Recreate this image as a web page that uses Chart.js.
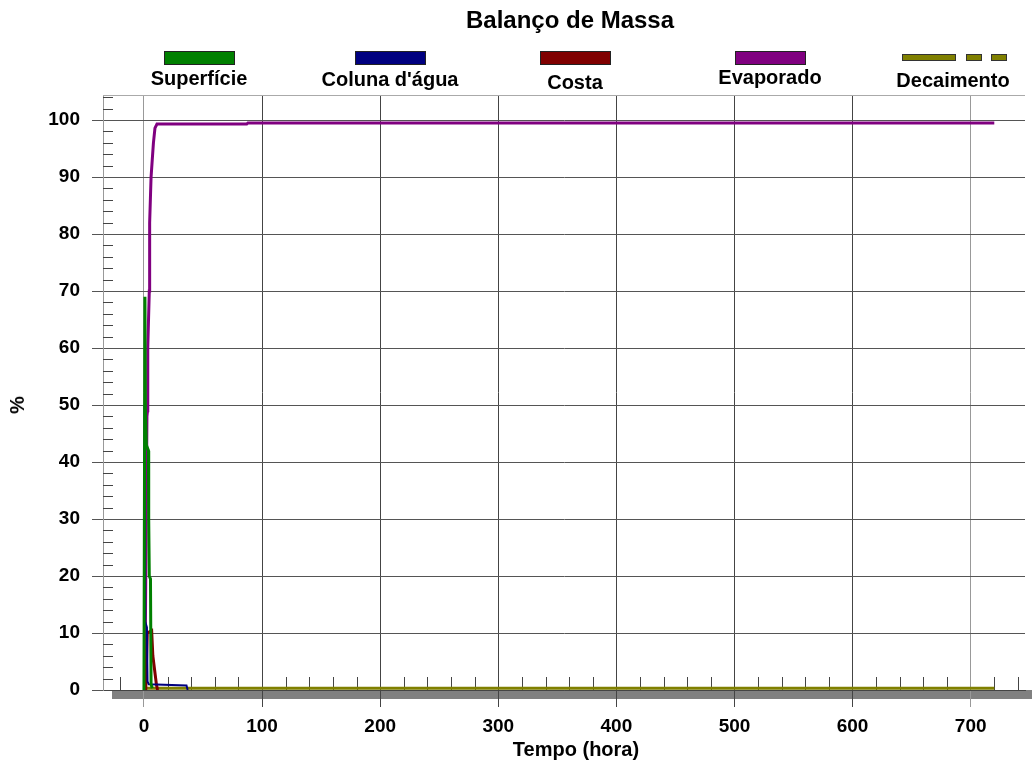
<!DOCTYPE html>
<html>
<head>
<meta charset="utf-8">
<title>Balanço de Massa</title>
<script src="https://cdn.jsdelivr.net/npm/chart.js@4.4.1/dist/chart.umd.min.js"></script>
<style>
html, body { margin: 0; padding: 0; background: #fff; }
#wrap {
    position: relative; width: 1032px; height: 764px; overflow: hidden;
    font-family: "Liberation Sans", Arial, sans-serif; font-weight: bold; color: #000;
}
#grafica { position: absolute; left: 0; top: 0; }
.txt { position: absolute; white-space: nowrap; line-height: 1; transform: translate(-50%, -50%); }
.caixa { position: absolute; box-sizing: border-box; }
</style>
</head>
<body>
<div id="wrap">
    <canvas id="grafica" width="1032" height="764"></canvas>
    <div class="txt" style="left:570px; top:20px; font-size:24px;">Balanço de Massa</div>
    <div id="legenda"></div>
    <div class="txt" style="left:17px; top:405px; font-size:20px; transform:translate(-50%,-50%) rotate(-90deg);">%</div>
    <div class="txt" style="left:576px; top:749px; font-size:20px;">Tempo (hora)</div>
</div>
<script>
// DADOS (tempo em horas, valores em %)
const nomes = ["Superfície", "Coluna d'água", "Costa", "Evaporado", "Decaimento"];
const cores = ["#008000", "#000080", "#800000", "#800080", "#808000"];

const tempoSuperficie = [0, 0.8, 1.2, 2, 3.8, 4, 4.5, 5.5, 6, 7];
const superficie      = [0, 69, 49, 43, 42, 30, 20, 19.5, 1, 0.3];

const tempoColuna = [0, 0.5, 1, 2.5, 3, 4, 36, 37];
const coluna      = [0, 50, 12, 11, 1.5, 1, 0.8, 0];

const tempoCosta = [0, 1.5, 2.8, 6.5, 7.5, 9, 10.5, 11.5];
const costa      = [0, 0, 10, 10.4, 6, 3.5, 1, 0];

const tempoEvaporado = [0, 0.8, 2.5, 3, 3.2, 4.5, 4.8, 6, 7, 8, 9.3, 11, 87, 88, 720];
const evaporado      = [0, 0, 48, 49, 60, 70, 82, 90, 93, 96, 98.6, 99.3, 99.3, 99.5, 99.5];

const tempoDecaimento = [0, 720];
const decaimento      = [0.3, 0.3];

const ticksX = [0, 100, 200, 300, 400, 500, 600, 700];
const ticksY = [0, 10, 20, 30, 40, 50, 60, 70, 80, 90, 100];

// layout da legenda (centro x, centro y do texto)
const legX = [199, 390, 575, 770, 953];
const legY = [78, 79, 82, 77, 80];

const tempos = [tempoSuperficie, tempoColuna, tempoCosta, tempoEvaporado, tempoDecaimento];
const series = [superficie, coluna, costa, evaporado, decaimento];

// LEGENDA
const legenda = document.getElementById("legenda");
nomes.forEach((nome, i) => {
    if (i < 4) {
        const c = document.createElement("div");
        c.className = "caixa";
        c.style.cssText = `left:${legX[i] - 35}px; top:51px; width:71px; height:14px; background:${cores[i]}; border:1px solid #222;`;
        legenda.appendChild(c);
    } else {
        [[902, 54], [966, 16], [991, 16]].forEach(([x, w]) => {
            const c = document.createElement("div");
            c.className = "caixa";
            c.style.cssText = `left:${x}px; top:54px; width:${w}px; height:7px; background:${cores[i]}; border:1px solid #333;`;
            legenda.appendChild(c);
        });
    }
    const t = document.createElement("div");
    t.className = "txt";
    t.style.cssText = `left:${legX[i]}px; top:${legY[i]}px; font-size:20px;`;
    t.textContent = nome;
    legenda.appendChild(t);
});

// DETALHES: faixa cinza, borda superior e marcas menores
const detalhes = {
    id: "detalhes",
    beforeDraw(chart) {
        const { ctx, chartArea } = chart;
        ctx.save();
        ctx.fillStyle = "#808080";
        ctx.fillRect(chartArea.left + 9, chartArea.bottom, chart.width - chartArea.left - 9, 9);
        ctx.restore();
    },
    beforeDatasetsDraw(chart) {
        const { ctx, chartArea, scales } = chart;
        ctx.save();
        ctx.strokeStyle = "#aaa";
        ctx.lineWidth = 1;
        ctx.beginPath();
        ctx.moveTo(chartArea.left, chartArea.top + 0.5);
        ctx.lineTo(chartArea.right, chartArea.top + 0.5);
        ctx.stroke();

        ctx.strokeStyle = "#444";
        ctx.beginPath();
        for (let v = 2; v < scales.y.max; v += 2) {
            if (v % 10 === 0) continue;
            const py = Math.round(scales.y.getPixelForValue(v)) + 0.5;
            ctx.moveTo(chartArea.left, py);
            ctx.lineTo(chartArea.left + 10, py);
        }
        for (let v = -20; v < scales.x.max; v += 20) {
            if (v % 100 === 0) continue;
            const px = Math.round(scales.x.getPixelForValue(v)) + 0.5;
            ctx.moveTo(px, chartArea.bottom);
            ctx.lineTo(px, chartArea.bottom - 13);
        }
        ctx.stroke();
        ctx.restore();
    }
};

const fonteTicks = { family: "'Liberation Sans', Arial, sans-serif", size: 19, weight: "bold" };

new Chart(document.getElementById("grafica"), {
    type: "line",
    data: {
        datasets: nomes.map((nome, i) => ({
            label: nome,
            data: tempos[i].map((t, k) => ({ x: t, y: series[i][k] })),
            borderColor: cores[i],
            backgroundColor: cores[i],
            borderWidth: i === 1 ? 2 : 3,
            pointRadius: 0,
            tension: 0,
            fill: false
        }))
    },
    options: {
        responsive: false,
        animation: false,
        devicePixelRatio: 1,
        layout: { padding: { top: 95, right: 7, left: 0, bottom: 0 } },
        plugins: {
            legend: { display: false },
            title: { display: false },
            tooltip: { enabled: false }
        },
        scales: {
            x: {
                type: "linear",
                min: -34.7,
                max: 746,
                afterBuildTicks: s => { s.ticks = ticksX.map(v => ({ value: v })); },
                afterFit: s => { s.height = 74; },
                grid: {
                    color: c => (c.tick && (c.tick.value === 0 || c.tick.value === 700)) ? "#999" : "#444",
                    lineWidth: 1,
                    tickLength: 17
                },
                border: { display: true, color: "#444" },
                ticks: { font: fonteTicks, color: "#000", padding: 8, maxRotation: 0, autoSkip: false }
            },
            y: {
                type: "linear",
                min: 0,
                max: 104.4,
                afterBuildTicks: s => { s.ticks = ticksY.map(v => ({ value: v })); },
                afterFit: s => { s.width = 103; },
                grid: { color: "#555", lineWidth: 1, tickLength: 11 },
                border: { display: true, color: "#999" },
                ticks: { font: fonteTicks, color: "#000", padding: 12, autoSkip: false }
            }
        }
    },
    plugins: [detalhes]
});
</script>
</body>
</html>
